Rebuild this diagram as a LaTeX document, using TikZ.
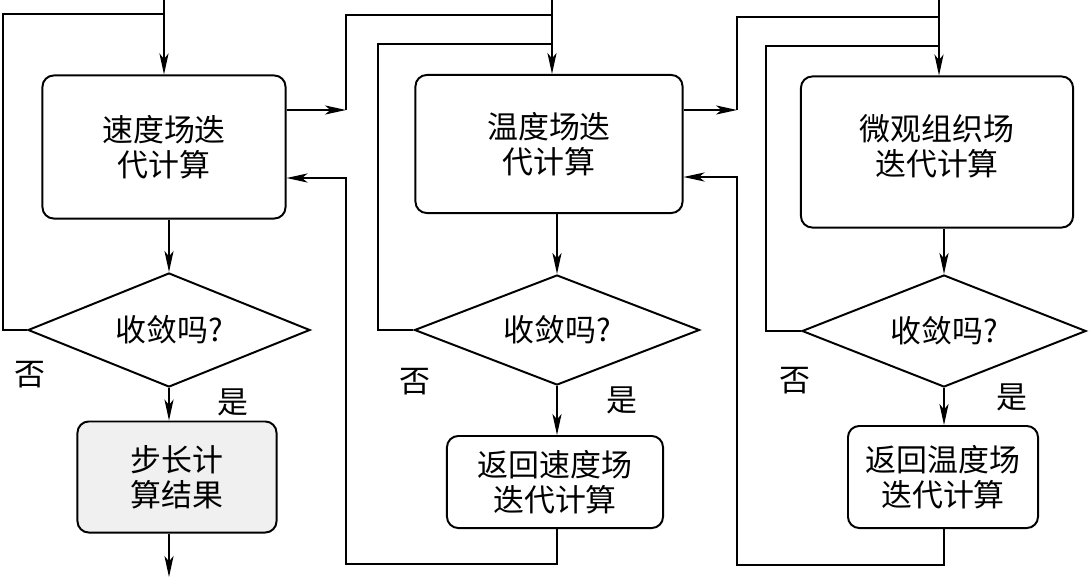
\documentclass[tikz,border=0pt]{standalone}
\usepackage{fontspec}
\newfontfamily\cjk{Noto Sans CJK SC}
\usetikzlibrary{shapes.geometric,arrows.meta}
\tikzset{
  txt/.style={font=\cjk\fontsize{22}{25}\selectfont},
  proc/.style={txt,draw,line width=1.4pt,rounded corners=8pt,align=center,inner sep=0pt},
  test/.style={txt,draw,diamond,aspect=2.5,line width=1.4pt,inner sep=0pt},
  flow/.style={-{Stealth[length=15pt,width=6.5pt,inset=4pt]}},
}
\begin{document}
\begin{tikzpicture}[x=0.025cm,y=-0.025cm,line width=1pt]
\useasboundingbox (0,0) rectangle (1089,577);
   \node[proc,minimum width=6.075cm,minimum height=3.575cm] at (164,147) (A) {速度场迭\\代计算};
   \node[proc,minimum width=6.675cm,minimum height=3.45cm] at (549,144) (B) {温度场迭\\代计算};
   \node[proc,text depth=10pt,minimum width=6.8cm,minimum height=3.775cm] at (937,152) (C) {微观组织场\\迭代计算};

   \node[test,minimum width=7.05cm,minimum height=2.85cm] at (169,330) (d1) {收敛吗?};
   \node[test,minimum width=7.125cm,minimum height=2.75cm] at (557,330) (d2) {收敛吗?};
   \node[test,minimum width=7.1cm,minimum height=2.8cm] at (944,331) (d3) {收敛吗?};

   \node[proc,fill=gray!12,minimum width=4.975cm,minimum height=2.775cm] at (177,477) (r1) {步长计\\算结果};
   \node[proc,minimum width=5.4cm,minimum height=2.3cm] at (555,482) (r2) {返回速度场\\迭代计算};
   \node[proc,minimum width=4.75cm,minimum height=2.55cm] at (943,477) (r3) {返回温度场\\迭代计算};

   \node[txt] at (30,375) (n1) {否};
   \node[txt] at (415,382) (n2) {否};
   \node[txt] at (795,381) (n3) {否};
   \node[txt] at (233,402) (y1) {是};
   \node[txt] at (622,400) (y2) {是};
   \node[txt] at (1012,397) (y3) {是};

   \coordinate (in1) at (164,0);
   \coordinate (in2) at (552,0);
   \coordinate (in3) at (939,0);
   \coordinate (out1) at (169,577);

    % first column
    \draw[flow] (in1) -- (in1 |- A.north);
    \draw[flow] (A.south -| d1.north) -- (d1.north);
    \draw (d1.west) -| (3,14) -- (in1 |- 0,14);
    \draw[flow] (d1.south) -- (d1.south |- r1.north);
    \draw[flow] (r1.south -| d1.south) -- (out1);

    % second column
    \draw[flow] (in2) -- (in2 |- B.north);
    \draw[flow] (A.east |- 0,110) -- (346,110);
    \draw (346,110) |- (in2 |- 0,15);
    \draw[flow] (B.south -| d2.north) -- (d2.north);
    \draw (d2.west) -| (378,44) -- (in2 |- 0,44);
    \draw[flow] (d2.south) -- (d2.south |- r2.north);
    \draw[flow] (r2.south -| d2.south) |- (346,564) -- (346,178) -- (A.east |- 0,178);

    % third column
    \draw[flow] (in3) -- (in3 |- C.north);
    \draw[flow] (B.east |- 0,110) -- (737,110);
    \draw (737,110) |- (in3 |- 0,17);
    \draw[flow] (C.south -| d3.north) -- (d3.north);
    \draw (d3.west) -| (766,46) -- (in3 |- 0,46);
    \draw[flow] (d3.south) -- (d3.south |- r3.north);
    \draw[flow] (r3.south -| d3.south) |- (737,565) -- (737,177) -- (B.east |- 0,177);

\end{tikzpicture}
\end{document}
